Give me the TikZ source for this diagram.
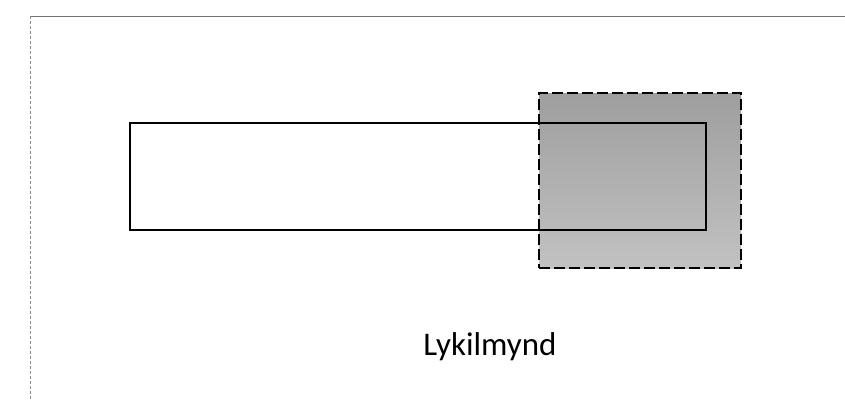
\documentclass[tikz,border=0pt]{standalone}
\usepackage{fontspec}
\setmainfont{Carlito}
\begin{document}
\begin{tikzpicture}[x=1pt,y=-1pt,
  frameline/.style={draw=black!55, line width=1pt},
  sideline/.style={draw=black!45, line width=0.6pt, dash pattern=on 3pt off 2pt},
  graybox/.style={top color=black!38, bottom color=black!24, draw=black, line width=1.8pt, dash pattern=on 11pt off 4pt},
  mainbox/.style={draw=black, line width=1.3pt},
  caption/.style={font=\fontsize{33}{36}\selectfont, inner sep=0pt, anchor=base}]
\useasboundingbox (0,0) rectangle (845,400);
\coordinate (tl) at (30,16);
\coordinate (tr) at (845,16);
\coordinate (bl) at (30,400);
\draw[frameline] (tl) -- (tr);
\draw[sideline] (tl) -- (bl);
\node[graybox, minimum width=202pt, minimum height=175pt, inner sep=0pt] (gray) at (640,180.5) {};
\node[mainbox, minimum width=576pt, minimum height=107pt, inner sep=0pt] (main) at (418,176.5) {};
\node[caption] (cap) at (490,355) {Lykilmynd};
\end{tikzpicture}
\end{document}
